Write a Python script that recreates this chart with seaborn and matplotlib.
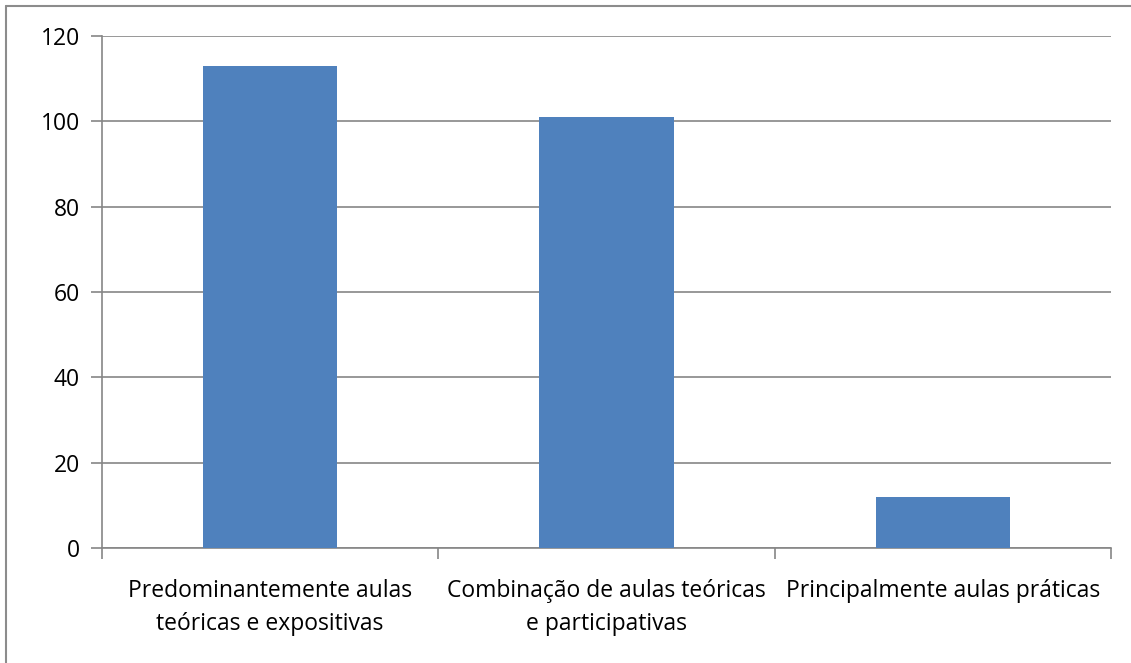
import seaborn as sns
import matplotlib.pyplot as plt
import pandas as pd
from matplotlib.lines import Line2D

# Data
categories = ['Predominantemente aulas\nteóricas e expositivas',
              'Combinação de aulas teóricas\ne participativas',
              'Principalmente aulas práticas']
counts = [113, 101, 12]
y_ticks = [0, 20, 40, 60, 80, 100, 120]

df = pd.DataFrame({'categoria': categories, 'total': counts})

sns.set_style('white')
plt.rcParams['font.family'] = ['Open Sans', 'DejaVu Sans']
plt.rcParams['text.color'] = 'black'
plt.rcParams['xtick.color'] = 'black'
plt.rcParams['ytick.color'] = 'black'

W, H = 1131, 663
fig = plt.figure(figsize=(W / 100, H / 100), dpi=100)
ax = fig.add_axes([102 / W, 1 - 548 / H, (1111 - 102) / W, (548 - 36) / H])

sns.barplot(data=df, x='categoria', y='total', color='#4F81BD', width=0.4,
            saturation=1, linewidth=0, ax=ax, zorder=3)

grid_c = '#868686'
ax.set_ylim(0, 120)
ax.set_xlim(-0.5, 2.5)
ax.set_yticks(y_ticks)
ax.yaxis.grid(True, color=grid_c, linewidth=1.2, zorder=0)
ax.set_axisbelow(True)
ax.tick_params(axis='y', left=True, length=8, color=grid_c, width=1.2,
               labelsize=16.5, labelcolor='black', pad=8)
ax.set_xticks([-0.5, 0.5, 1.5, 2.5], minor=True)
ax.tick_params(axis='x', which='minor', bottom=True, length=8, color=grid_c, width=1.2)
ax.tick_params(axis='x', which='major', bottom=False, length=0, labelsize=16.5,
               labelcolor='black', pad=22)
for lbl in ax.get_xticklabels():
    lbl.set_linespacing(1.55)
for s in ['top', 'right']:
    ax.spines[s].set_visible(False)
for s in ['left', 'bottom']:
    ax.spines[s].set_color(grid_c)
    ax.spines[s].set_linewidth(1.2)
ax.set_xlabel('')
ax.set_ylabel('')

# outer chart-area border (left and top edges visible)
fig.add_artist(Line2D([6 / W, 6 / W], [0, 1 - 6 / H], transform=fig.transFigure,
                      color='#8c8c8c', linewidth=1.5))
fig.add_artist(Line2D([6 / W, 1], [1 - 6 / H, 1 - 6 / H], transform=fig.transFigure,
                      color='#8c8c8c', linewidth=1.5))

fig.savefig('out.png', dpi=100, facecolor='white')
